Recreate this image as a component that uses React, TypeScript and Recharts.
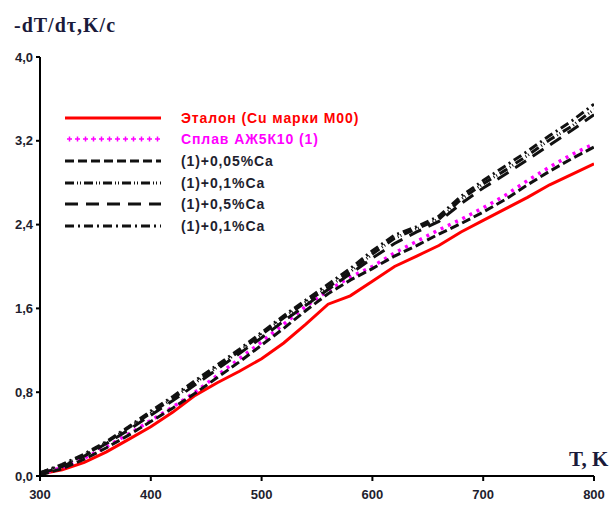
import React from 'react';
import { LineChart, Line, XAxis, YAxis } from 'recharts';

const temps = [300, 320, 340, 360, 380, 400, 420, 440, 460, 480, 500, 520, 540, 560, 580, 600, 620, 640, 660, 680, 700, 720, 740, 760, 780, 800];
const etalon = [0.02, 0.06, 0.13, 0.23, 0.35, 0.47, 0.61, 0.77, 0.89, 1.00, 1.12, 1.27, 1.45, 1.64, 1.72, 1.86, 2.00, 2.10, 2.20, 2.33, 2.44, 2.55, 2.66, 2.78, 2.88, 2.98];
const alloy = [0.02, 0.08, 0.17, 0.28, 0.40, 0.53, 0.66, 0.80, 0.96, 1.12, 1.28, 1.45, 1.62, 1.77, 1.90, 2.00, 2.13, 2.24, 2.35, 2.45, 2.56, 2.68, 2.82, 2.95, 3.07, 3.17];
const ca005 = [0.01, 0.07, 0.16, 0.27, 0.39, 0.52, 0.65, 0.79, 0.94, 1.09, 1.25, 1.41, 1.58, 1.74, 1.87, 1.98, 2.10, 2.20, 2.31, 2.41, 2.52, 2.64, 2.78, 2.91, 3.03, 3.14];
const ca01a = [0.03, 0.10, 0.20, 0.32, 0.46, 0.60, 0.74, 0.89, 1.04, 1.19, 1.35, 1.51, 1.66, 1.80, 1.95, 2.12, 2.27, 2.36, 2.45, 2.64, 2.79, 2.92, 3.06, 3.21, 3.34, 3.50];
const ca05 = [0.02, 0.09, 0.19, 0.31, 0.44, 0.58, 0.72, 0.87, 1.02, 1.17, 1.32, 1.48, 1.63, 1.78, 1.93, 2.08, 2.22, 2.33, 2.43, 2.60, 2.75, 2.88, 3.02, 3.16, 3.30, 3.45];
const ca01b = [0.03, 0.11, 0.21, 0.33, 0.47, 0.62, 0.76, 0.91, 1.06, 1.21, 1.37, 1.53, 1.68, 1.83, 1.98, 2.15, 2.30, 2.38, 2.48, 2.67, 2.82, 2.96, 3.10, 3.25, 3.39, 3.55];

const xTicks = [300, 400, 500, 600, 700, 800];
const yTicks = [0, 0.8, 1.6, 2.4, 3.2, 4.0];

const legendItems = [
  { name: 'Эталон (Cu марки М00)', color: '#ff0000', dash: '', width: 3, plus: false },
  { name: 'Сплав АЖ5К10 (1)', color: '#ff00ff', dash: '', width: 2, plus: true },
  { name: '(1)+0,05%Ca', color: '#111', dash: '9 4', width: 3, plus: false },
  { name: '(1)+0,1%Ca', color: '#111', dash: '9 3 1 2 1 3', width: 3, plus: false },
  { name: '(1)+0,5%Ca', color: '#111', dash: '13 8', width: 3, plus: false },
  { name: '(1)+0,1%Ca', color: '#111', dash: '9 4 2 4', width: 3, plus: false },
];

const data = temps.map((t, i) => ({
  t,
  etalon: etalon[i],
  alloy: alloy[i],
  ca005: ca005[i],
  ca01a: ca01a[i],
  ca05: ca05[i],
  ca01b: ca01b[i],
}));

const tickStyle = { fill: '#1e1e2e', fontSize: 13, fontWeight: 700, fontFamily: '"Liberation Sans", Arial, sans-serif' };

const App: React.FC = () => {
  return (
    <div style={{ position: 'absolute', left: 0, top: 0, width: 609, height: 508, background: '#fff' }}>
      <LineChart width={609} height={508} data={data} margin={{ top: 57, right: 15, left: 0, bottom: 2 }}>
        <XAxis
          dataKey="t"
          type="number"
          domain={[300, 800]}
          ticks={xTicks}
          height={30}
          stroke="#000"
          strokeWidth={2}
          tickSize={5}
          tickMargin={9}
          tick={tickStyle}
          allowDataOverflow
        />
        <YAxis
          type="number"
          domain={[0, 4]}
          ticks={yTicks}
          width={40}
          stroke="#000"
          strokeWidth={2}
          tickSize={4}
          tickMargin={3}
          tick={tickStyle}
          tickFormatter={(v: number) => v.toFixed(1).replace('.', ',')}
        />
        <Line type="linear" dataKey="etalon" stroke="#ff0000" strokeWidth={3} dot={false} isAnimationActive={false} />
        <Line type="linear" dataKey="alloy" stroke="#ff00ff" strokeWidth={3.5} strokeDasharray="3 5" dot={false} isAnimationActive={false} />
        <Line type="linear" dataKey="ca005" stroke="#111" strokeWidth={3} strokeDasharray="9 4" dot={false} isAnimationActive={false} />
        <Line type="linear" dataKey="ca05" stroke="#111" strokeWidth={3} strokeDasharray="13 8" dot={false} isAnimationActive={false} />
        <Line type="linear" dataKey="ca01a" stroke="#111" strokeWidth={3} strokeDasharray="9 3 1 2 1 3" dot={false} isAnimationActive={false} />
        <Line type="linear" dataKey="ca01b" stroke="#111" strokeWidth={3} strokeDasharray="9 4 2 4" dot={false} isAnimationActive={false} />
      </LineChart>

      <div style={{ position: 'absolute', left: 14, top: 14, fontFamily: '"Liberation Serif", "Times New Roman", serif', fontWeight: 700, fontSize: 20, letterSpacing: 1, color: '#1a1a3a', whiteSpace: 'nowrap' }}>
        -dT/dτ,K/c
      </div>
      <div style={{ position: 'absolute', left: 569, top: 447, fontFamily: '"Liberation Serif", "Times New Roman", serif', fontWeight: 700, fontSize: 21, color: '#1a1a3a', whiteSpace: 'nowrap' }}>
        T, K
      </div>

      <div style={{ position: 'absolute', left: 65, top: 107 }}>
        {legendItems.map((it, i) => (
          <div key={i} style={{ display: 'flex', alignItems: 'center', height: 21.6 }}>
            <svg width={96} height={10} style={{ marginRight: 20 }}>
              {it.plus ? (
                Array.from({ length: 12 }, (_, k) => (
                  <g key={k} stroke={it.color} strokeWidth={1.5}>
                    <line x1={2 + k * 8} y1={5} x2={7 + k * 8} y2={5} />
                    <line x1={4.5 + k * 8} y1={2.5} x2={4.5 + k * 8} y2={7.5} />
                  </g>
                ))
              ) : (
                <line x1={0} y1={5} x2={96} y2={5} stroke={it.color} strokeWidth={it.width} strokeDasharray={it.dash || undefined} />
              )}
            </svg>
            <span style={{ fontFamily: '"Liberation Sans", Arial, sans-serif', fontWeight: 700, fontSize: 14, letterSpacing: 0.9, color: it.color === '#111' ? '#1e1e2e' : it.color, whiteSpace: 'nowrap' }}>
              {it.name}
            </span>
          </div>
        ))}
      </div>
    </div>
  );
};

export default App;
